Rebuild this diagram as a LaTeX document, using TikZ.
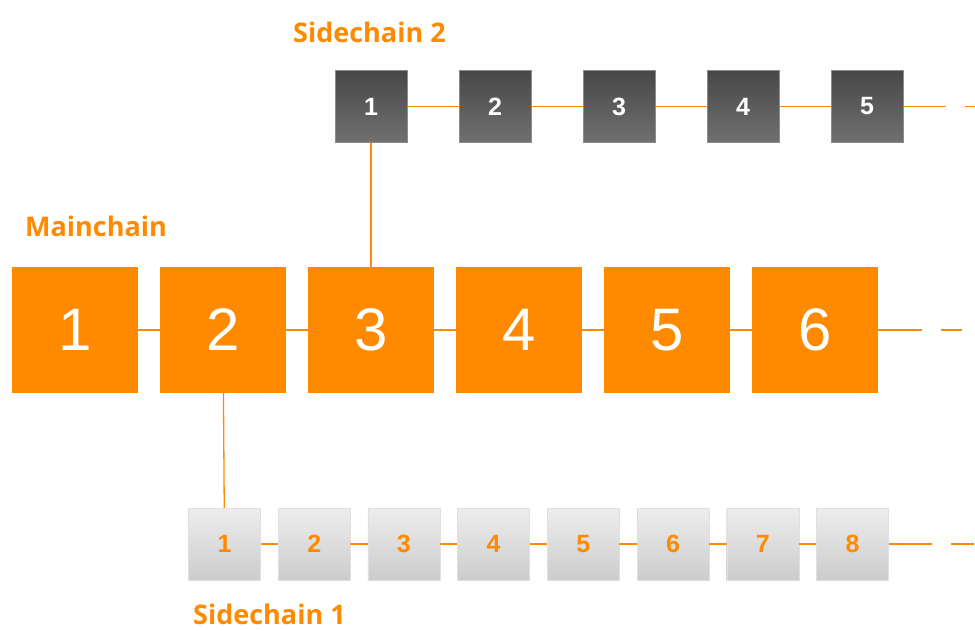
\documentclass[tikz,border=0pt]{standalone}
\usepackage{fontspec}
\setmainfont{Liberation Sans}
\newfontfamily\labelfont{Open Sans}
\definecolor{chainorange}{HTML}{FF8A00}

\begin{document}
\begin{tikzpicture}[x=1pt,y=-1pt,
  mainblock/.style={fill=chainorange, minimum size=126pt, inner sep=0pt, text=white, font=\fontsize{60}{60}\selectfont},
  darkblock/.style={top color=black!72, bottom color=black!56, draw=black!45, line width=0.3pt, minimum size=72pt, inner sep=0pt, text=white, font=\fontsize{25}{25}\selectfont\bfseries},
  lightblock/.style={top color=black!7, bottom color=black!20, draw=black!12, line width=0.3pt, minimum size=72pt, inner sep=0pt, text=chainorange, font=\fontsize{25}{25}\selectfont\bfseries},
  link/.style={chainorange, line width=1.3pt},
  title/.style={anchor=base west, inner sep=0pt, text=chainorange, font=\labelfont\bfseries\fontsize{27}{30}\selectfont}]
\useasboundingbox (0,0) rectangle (975,631);

% titles
\node [title] (t2) at (293,43) {Sidechain 2};
\node [title] (tm) at (25,237) {Mainchain};
\node [title] (t1) at (193,624) {Sidechain 1};

% mainchain
\node [mainblock] (m1) at (75,330) {1};
\node [mainblock] (m2) at (223,330) {2};
\node [mainblock] (m3) at (371,330) {3};
\node [mainblock] (m4) at (519,330) {4};
\node [mainblock] (m5) at (667,330) {5};
\node [mainblock] (m6) at (815,330) {6};
\coordinate (mend) at (962,330);

% sidechain 2
\node [darkblock] (a1) at (371,106.5) {1};
\node [darkblock] (a2) at (495,106.5) {2};
\node [darkblock] (a3) at (619,106.5) {3};
\node [darkblock] (a4) at (743,106.5) {4};
\node [darkblock] (a5) at (867,106.5) {5};
\coordinate (aend) at (980,106.5);

% sidechain 1
\node [lightblock] (b1) at (224.5,544) {1};
\node [lightblock] (b2) at (314.2,544) {2};
\node [lightblock] (b3) at (403.9,544) {3};
\node [lightblock] (b4) at (493.6,544) {4};
\node [lightblock] (b5) at (583.3,544) {5};
\node [lightblock] (b6) at (673.0,544) {6};
\node [lightblock] (b7) at (762.7,544) {7};
\node [lightblock] (b8) at (852.5,544) {8};
\coordinate (bend) at (974,544);

% links
\draw [link] (m1)--(m2);
\draw [link] (m2)--(m3);
\draw [link] (m3)--(m4);
\draw [link] (m4)--(m5);
\draw [link] (m5)--(m6);
\draw [link, dash pattern=on 44pt off 19pt on 21pt off 200pt] (m6.east)--(mend);

\draw [link] (a1)--(a2);
\draw [link] (a2)--(a3);
\draw [link] (a3)--(a4);
\draw [link] (a4)--(a5);
\draw [link, dash pattern=on 43pt off 19pt on 40pt off 200pt] (a5.east)--(aend);

\draw [link] (b1)--(b2);
\draw [link] (b2)--(b3);
\draw [link] (b3)--(b4);
\draw [link] (b4)--(b5);
\draw [link] (b5)--(b6);
\draw [link] (b6)--(b7);
\draw [link] (b7)--(b8);
\draw [link, dash pattern=on 43pt off 19pt on 40pt off 200pt] (b8.east)--(bend);

% branches
\draw [link] (a1)--(m3);
\draw [link] (m2)--(b1);

\end{tikzpicture}
\end{document}
